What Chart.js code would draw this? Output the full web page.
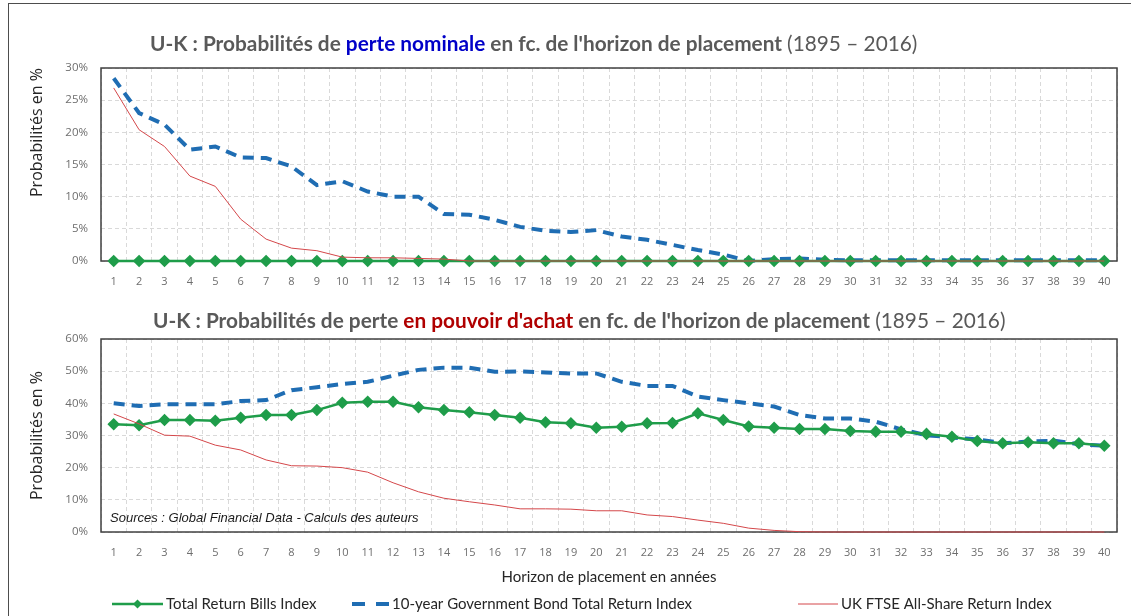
<!DOCTYPE html>
<html lang="fr">
<head>
<meta charset="utf-8">
<title>U-K : Probabilités de perte</title>
<script src="https://cdn.jsdelivr.net/npm/chart.js@4.4.0/dist/chart.umd.min.js"></script>
<style>
    html, body { margin: 0; padding: 0; background: #fff; overflow: hidden; }
    #page { position: relative; width: 1131px; height: 616px; overflow: hidden; }
    #frame { position: absolute; left: 8px; top: 3px; width: 1200px; height: 700px; border: 1px solid #4d4d4d; }
    .chartBox { position: absolute; left: 0; width: 1131px; }
    .title { position: absolute; font-family: Lato, sans-serif; font-size: 20.8px; font-weight: bold; color: #595959; white-space: nowrap; line-height: 26px; }
    .title .thin { font-weight: normal; }
    #source { position: absolute; left: 110px; top: 510px; font-family: "Liberation Sans", Arial, sans-serif; font-style: italic; font-size: 13px; color: #1a1a1a; line-height: 16px; white-space: nowrap; }
</style>
</head>
<body>
<div id="page">
    <div id="frame"></div>
    <div class="chartBox" style="top:0;height:300px;"><canvas id="nominalChart"></canvas></div>
    <div class="chartBox" style="top:300px;height:316px;"><canvas id="achatChart"></canvas></div>
    <div class="title" style="left:150px;top:30px;">U-K : Probabilités de <span style="color:#0000c8;">perte nominale</span> en fc. de l'horizon de placement <span class="thin">(1895 – 2016)</span></div>
    <div class="title" style="left:153px;top:307px;">U-K : Probabilités de perte <span style="color:#b00000;">en pouvoir d'achat</span> en fc. de l'horizon de placement <span class="thin">(1895 – 2016)</span></div>
    <div id="source">Sources : Global Financial Data - Calculs des auteurs</div>
</div>
<script>
// horizon de placement (années)
const horizons = ['1','2','3','4','5','6','7','8','9','10','11','12','13','14','15','16','17','18','19','20',
                  '21','22','23','24','25','26','27','28','29','30','31','32','33','34','35','36','37','38','39','40'];

const seriesNames = ['Total Return Bills Index', '10-year Government Bond Total Return Index', 'UK FTSE All-Share Return Index'];

// perte nominale (%)
const nominalBills = [0,0,0,0,0,0,0,0,0,0,0,0,0,0,0,0,0,0,0,0,
                      0,0,0,0,0,0,0,0,0,0,0,0,0,0,0,0,0,0,0,0];
const nominalBonds = [28.4, 23.0, 21.2, 17.3, 17.8, 16.1, 16.0, 14.7, 11.8, 12.4,
                      10.8, 10.0, 10.0, 7.3, 7.2, 6.4, 5.3, 4.7, 4.5, 4.8,
                      3.8, 3.3, 2.5, 1.7, 1.0, 0.0, 0.3, 0.4, 0.2, 0.1,
                      0.1, 0.1, 0.1, 0.1, 0.1, 0.1, 0.1, 0.1, 0.1, 0.1];
const nominalFtse = [26.9, 20.4, 17.8, 13.2, 11.6, 6.5, 3.4, 2.0, 1.6, 0.6,
                     0.5, 0.5, 0.4, 0.3, 0, 0, 0, 0, 0, 0,
                     0, 0, 0, 0, 0, 0, 0, 0, 0, 0,
                     0, 0, 0, 0, 0, 0, 0, 0, 0, 0];

// perte en pouvoir d'achat (%)
const achatBills = [33.5, 33.2, 34.8, 34.8, 34.6, 35.5, 36.4, 36.4, 37.9, 40.2,
                    40.5, 40.5, 38.8, 37.9, 37.2, 36.4, 35.5, 34.1, 33.8, 32.4,
                    32.7, 33.8, 33.9, 36.9, 34.8, 32.8, 32.4, 32.0, 32.0, 31.4,
                    31.2, 31.2, 30.5, 29.6, 28.3, 27.6, 27.9, 27.6, 27.6, 26.8];
const achatBonds = [40.0, 39.2, 39.7, 39.7, 39.7, 40.7, 41.0, 44.1, 45.0, 46.0,
                    46.7, 48.6, 50.4, 51.1, 51.1, 49.8, 49.9, 49.6, 49.3, 49.3,
                    46.7, 45.4, 45.4, 42.1, 41.0, 40.0, 39.0, 36.4, 35.3, 35.3,
                    34.3, 31.9, 30.1, 29.4, 28.8, 27.6, 28.1, 28.4, 27.3, 26.8];
const achatFtse = [36.7, 33.6, 30.1, 29.8, 27.0, 25.5, 22.4, 20.6, 20.5, 20.0,
                   18.6, 15.3, 12.5, 10.5, 9.4, 8.4, 7.2, 7.2, 7.1, 6.6,
                   6.6, 5.3, 4.8, 3.7, 2.7, 1.2, 0.5, 0.1, 0, 0,
                   0, 0, 0, 0, 0, 0, 0, 0, 0, 0];

const GREEN = '#1f9d4a';
const BLUE = '#1f6db3';
const RED = '#d4474a';

// cadre de la zone de tracé
const plotFrame = {
    id: 'plotFrame',
    beforeDatasetsDraw(chart) {
        const a = chart.chartArea;
        const ctx = chart.ctx;
        ctx.save();
        ctx.strokeStyle = '#404040';
        ctx.lineWidth = 1.5;
        ctx.strokeRect(a.left, a.top, a.right - a.left, a.bottom - a.top);
        ctx.restore();
    }
};

// légende dessinée sous le 2e graphique
const bottomLegend = {
    id: 'bottomLegend',
    afterDraw(chart) {
        const ctx = chart.ctx;
        const y = 304;
        const items = [
            { x: 112, w: 51, color: GREEN, width: 2.5, dash: [], diamond: true },
            { x: 352, w: 37, color: BLUE, width: 4, dash: [13, 11] },
            { x: 798, w: 40, color: RED, width: 1, dash: [] }
        ];
        ctx.save();
        ctx.font = '15px Lato, sans-serif';
        ctx.textBaseline = 'middle';
        items.forEach((it, i) => {
            ctx.strokeStyle = it.color;
            ctx.lineWidth = it.width;
            ctx.setLineDash(it.dash);
            ctx.beginPath();
            ctx.moveTo(it.x, y);
            ctx.lineTo(it.x + it.w, y);
            ctx.stroke();
            if (it.diamond) {
                const cx = it.x + it.w / 2;
                ctx.fillStyle = it.color;
                ctx.beginPath();
                ctx.moveTo(cx, y - 4.5);
                ctx.lineTo(cx + 4.5, y);
                ctx.lineTo(cx, y + 4.5);
                ctx.lineTo(cx - 4.5, y);
                ctx.closePath();
                ctx.fill();
            }
            ctx.setLineDash([]);
            ctx.fillStyle = '#262626';
            ctx.fillText(seriesNames[i], it.x + it.w + 3, y);
        });
        ctx.restore();
    }
};

function makeDatasets(bills, bonds, ftse) {
    return [{
        label: seriesNames[0],
        data: bills,
        borderColor: GREEN,
        backgroundColor: GREEN,
        borderWidth: 2.5,
        pointStyle: 'rectRot',
        pointRadius: 4.5,
        pointBackgroundColor: GREEN,
        pointBorderColor: GREEN,
        order: 1,
        clip: false
    }, {
        label: seriesNames[1],
        data: bonds,
        borderColor: BLUE,
        borderWidth: 4,
        borderDash: [11, 7],
        pointRadius: 0,
        order: 2,
        clip: false
    }, {
        label: seriesNames[2],
        data: ftse,
        borderColor: RED,
        borderWidth: 1,
        pointRadius: 0,
        order: 0,
        clip: false
    }];
}

function makeOptions(maxY, step, xHeight, yTitleAlign, topPad, withXTitle) {
    return {
        responsive: true,
        maintainAspectRatio: false,
        animation: false,
        layout: { padding: { left: 28, right: 14, top: topPad, bottom: 0 } },
        plugins: {
            legend: { display: false },
            tooltip: { enabled: false }
        },
        scales: {
            x: {
                offset: true,
                grid: { offset: true, color: '#d9d9d9', drawTicks: false },
                border: { display: false, dash: [4, 3] },
                ticks: {
                    autoSkip: false,
                    maxRotation: 0,
                    padding: 14,
                    color: '#6e6e6e',
                    font: { family: '"Open Sans", sans-serif', size: 11 }
                },
                title: {
                    display: withXTitle,
                    text: 'Horizon de placement en années',
                    color: '#262626',
                    font: { family: 'Lato, sans-serif', size: 15 },
                    padding: { top: 0, bottom: 30 }
                },
                afterFit: function(scale) { scale.height = xHeight; }
            },
            y: {
                min: 0,
                max: maxY,
                grid: { color: '#d9d9d9', drawTicks: false },
                border: { display: false, dash: [4, 3] },
                ticks: {
                    stepSize: step,
                    padding: 13,
                    color: '#6e6e6e',
                    font: { family: '"Open Sans", sans-serif', size: 11.5 },
                    callback: value => value + '%'
                },
                title: {
                    display: true,
                    text: 'Probabilités en %',
                    align: yTitleAlign,
                    color: '#262626',
                    font: { family: '"Open Sans", sans-serif', size: 16 },
                    padding: { top: 0, bottom: 0 }
                },
                afterFit: function(scale) { scale.width = 73; }
            }
        }
    };
}

// perte nominale
new Chart(document.getElementById('nominalChart'), {
    type: 'line',
    data: { labels: horizons, datasets: makeDatasets(nominalBills, nominalBonds, nominalFtse) },
    options: makeOptions(30, 5, 39, 'end', 68, false),
    plugins: [plotFrame]
});

// perte en pouvoir d'achat
new Chart(document.getElementById('achatChart'), {
    type: 'line',
    data: { labels: horizons, datasets: makeDatasets(achatBills, achatBonds, achatFtse) },
    options: makeOptions(60, 10, 84, 'center', 39, true),
    plugins: [plotFrame, bottomLegend]
});
</script>
</body>
</html>
